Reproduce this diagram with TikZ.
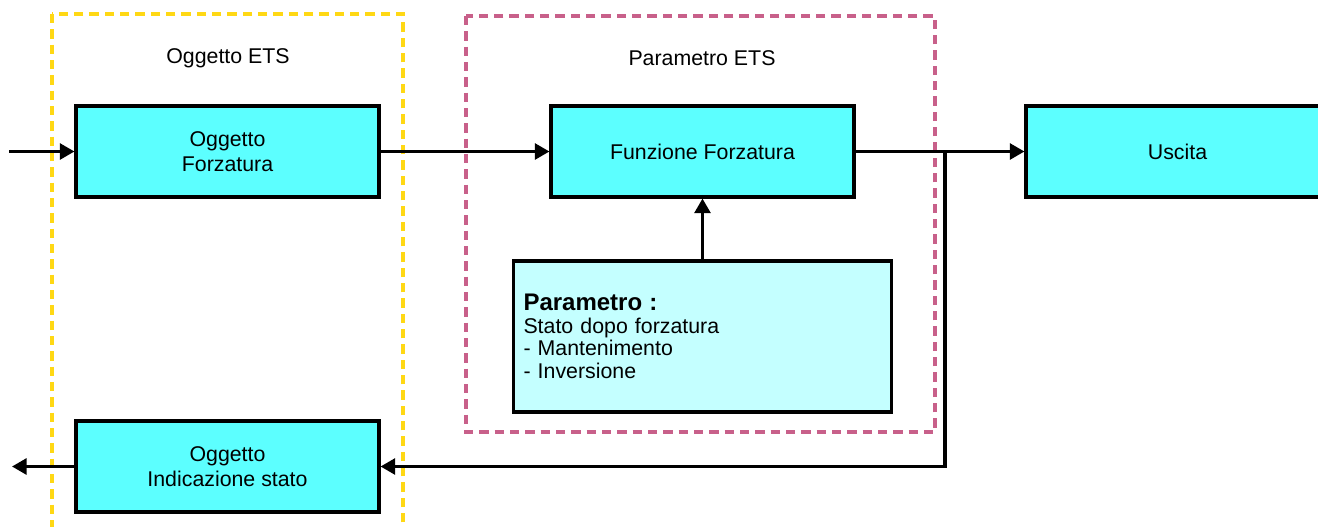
\documentclass[tikz,border=0pt]{standalone}
\usepackage{fontspec}
\setmainfont{Liberation Sans}
\usetikzlibrary{arrows.meta}
\definecolor{boxcyan}{HTML}{5CFFFF}
\definecolor{paramcyan}{HTML}{C4FFFF}
\definecolor{etsyellow}{HTML}{FFD814}
\definecolor{etspink}{HTML}{C8608A}
\tikzset{
    block/.style={draw, line width=2.6pt, fill=boxcyan, minimum width=227pt, minimum height=68pt,
        align=center, font=\fontsize{16}{19}\selectfont},
    link/.style={line width=2.3pt, -{Triangle[length=11pt,width=12pt]}},
    group/.style={line width=2.4pt, dash pattern=on 7pt off 4.5pt},
    grouplabel/.style={font=\fontsize{16}{19}\selectfont}
}
\begin{document}
\begin{tikzpicture}[x=0.75pt,y=-0.75pt]
\useasboundingbox (0,0) rectangle (1318,526);
% groups
\draw[group,etsyellow] (52,14) rectangle (403,545);
\draw[group,etspink] (466,16) rectangle (935,432);
\node[grouplabel] (lblogg) at (228,58) {Oggetto ETS};
\node[grouplabel] (lblpar) at (702,58) {Parametro ETS};
% blocks
\node[block] (forz) at (227.5,151.5) {Oggetto\\Forzatura};
\node[block] (funz) at (702.5,151.5) {Funzione Forzatura};
\node[block] (usc) at (1177.5,151.5) {Uscita};
\node[block] (stato) at (227.5,466.5) {Oggetto\\Indicazione stato};
\node[block, fill=paramcyan, minimum width=283.5pt, minimum height=113pt, inner xsep=0pt,
      text width=268.5pt, align=left, font=\fontsize{16}{17}\selectfont] (param) at (702.5,336.5)
    {{\fontsize{18}{20}\selectfont\bfseries Parametro :}\\Stato dopo forzatura\\- Mantenimento\\- Inversione};
% connectors
\coordinate (ingr) at (9,151.5);
\coordinate (usci) at (12,466.5);
\coordinate (ramo) at (945,151.5);
\draw[link] (ingr) -- (forz.west);
\draw[link] (forz.east) -- (funz.west);
\draw[link] (funz.east) -- (usc.west);
\draw[link] (param.north) -- (funz.south);
\draw[link] (ramo) |- (stato.east);
\draw[link] (stato.west) -- (usci);
\end{tikzpicture}
\end{document}
